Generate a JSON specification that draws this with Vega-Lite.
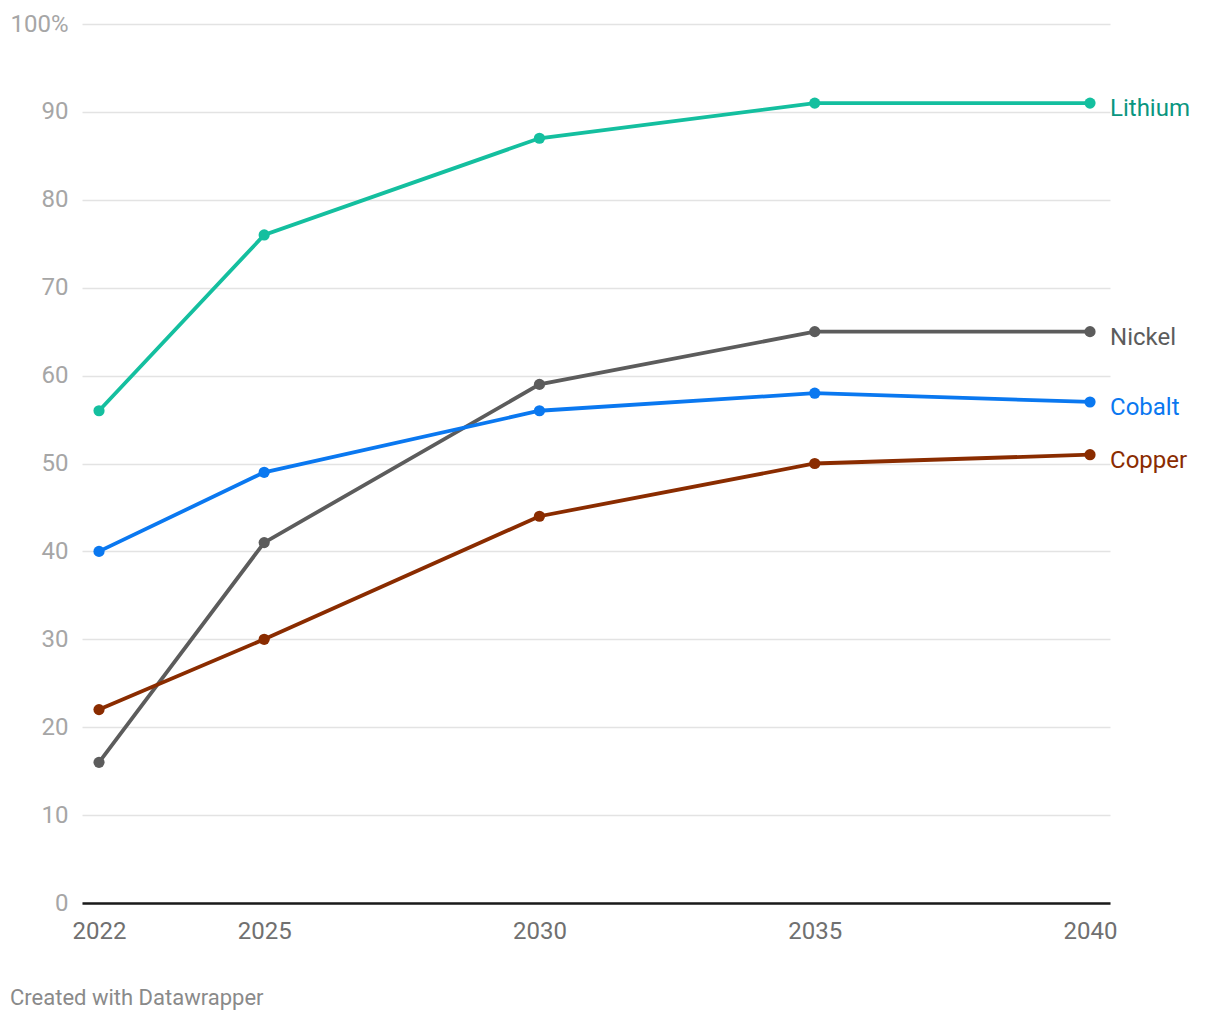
{
  "$schema": "https://vega.github.io/schema/vega-lite/v6.json",
  "width": 1028,
  "height": 879,
  "autosize": {"type": "none"},
  "padding": {"left": 82, "top": 24, "right": 110, "bottom": 117},
  "background": "white",
  "config": {
    "font": "Roboto",
    "view": {"stroke": null}
  },
  "title": {
    "text": "Created with Datawrapper",
    "orient": "bottom",
    "anchor": "start",
    "frame": "group",
    "dx": -72,
    "offset": 45,
    "font": "Roboto",
    "fontSize": 22,
    "fontWeight": "normal",
    "color": "#8a8a8a"
  },
  "data": {
    "values": [
      {"year": 2022, "metal": "Lithium", "value": 56},
      {"year": 2025, "metal": "Lithium", "value": 76},
      {"year": 2030, "metal": "Lithium", "value": 87},
      {"year": 2035, "metal": "Lithium", "value": 91},
      {"year": 2040, "metal": "Lithium", "value": 91},
      {"year": 2022, "metal": "Nickel", "value": 16},
      {"year": 2025, "metal": "Nickel", "value": 41},
      {"year": 2030, "metal": "Nickel", "value": 59},
      {"year": 2035, "metal": "Nickel", "value": 65},
      {"year": 2040, "metal": "Nickel", "value": 65},
      {"year": 2022, "metal": "Cobalt", "value": 40},
      {"year": 2025, "metal": "Cobalt", "value": 49},
      {"year": 2030, "metal": "Cobalt", "value": 56},
      {"year": 2035, "metal": "Cobalt", "value": 58},
      {"year": 2040, "metal": "Cobalt", "value": 57},
      {"year": 2022, "metal": "Copper", "value": 22},
      {"year": 2025, "metal": "Copper", "value": 30},
      {"year": 2030, "metal": "Copper", "value": 44},
      {"year": 2035, "metal": "Copper", "value": 50},
      {"year": 2040, "metal": "Copper", "value": 51}
    ]
  },
  "encoding": {
    "x": {
      "field": "year",
      "type": "quantitative",
      "scale": {"domain": [2021.691, 2040.363], "nice": false, "zero": false},
      "axis": {
        "title": null,
        "values": [2022, 2025, 2030, 2035, 2040],
        "format": "d",
        "grid": false,
        "ticks": false,
        "domain": true,
        "domainColor": "#1a1a1a",
        "domainWidth": 2.5,
        "labelFont": "Roboto",
        "labelFontSize": 24,
        "labelColor": "#707070",
        "labelPadding": 16,
        "labelFlush": false
      }
    },
    "y": {
      "field": "value",
      "type": "quantitative",
      "scale": {"domain": [0, 100], "nice": false},
      "axis": {
        "title": null,
        "values": [0, 10, 20, 30, 40, 50, 60, 70, 80, 90, 100],
        "labelExpr": "datum.value == 100 ? '100%' : datum.label",
        "grid": true,
        "gridColor": "#e3e3e3",
        "gridWidth": 1.5,
        "ticks": false,
        "domain": false,
        "labelFont": "Roboto",
        "labelFontSize": 24,
        "labelColor": "#a6a6a6",
        "labelPadding": 14
      }
    }
  },
  "layer": [
    {
      "mark": {"type": "line", "strokeWidth": 3.8},
      "encoding": {
        "color": {
          "field": "metal",
          "type": "nominal",
          "scale": {"domain": ["Lithium", "Nickel", "Cobalt", "Copper"], "range": ["#14bf9f", "#5c5c5c", "#0a78f0", "#8a2c00"]},
          "legend": null
        }
      }
    },
    {
      "mark": {"type": "point", "filled": true, "size": 125, "opacity": 1},
      "encoding": {
        "color": {
          "field": "metal",
          "type": "nominal",
          "scale": {"domain": ["Lithium", "Nickel", "Cobalt", "Copper"], "range": ["#14bf9f", "#5c5c5c", "#0a78f0", "#8a2c00"]},
          "legend": null
        }
      }
    },
    {
      "transform": [{"filter": "datum.year == 2040"}],
      "mark": {"type": "text", "align": "left", "baseline": "middle", "dx": 20, "dy": 6, "fontSize": 24, "font": "Roboto"},
      "encoding": {
        "text": {"field": "metal"},
        "color": {
          "field": "metal",
          "type": "nominal",
          "scale": {"domain": ["Lithium", "Nickel", "Cobalt", "Copper"], "range": ["#0a9680", "#5c5c5c", "#0a78f0", "#8a2c00"]},
          "legend": null
        }
      }
    }
  ],
  "resolve": {"scale": {"color": "independent"}}
}
